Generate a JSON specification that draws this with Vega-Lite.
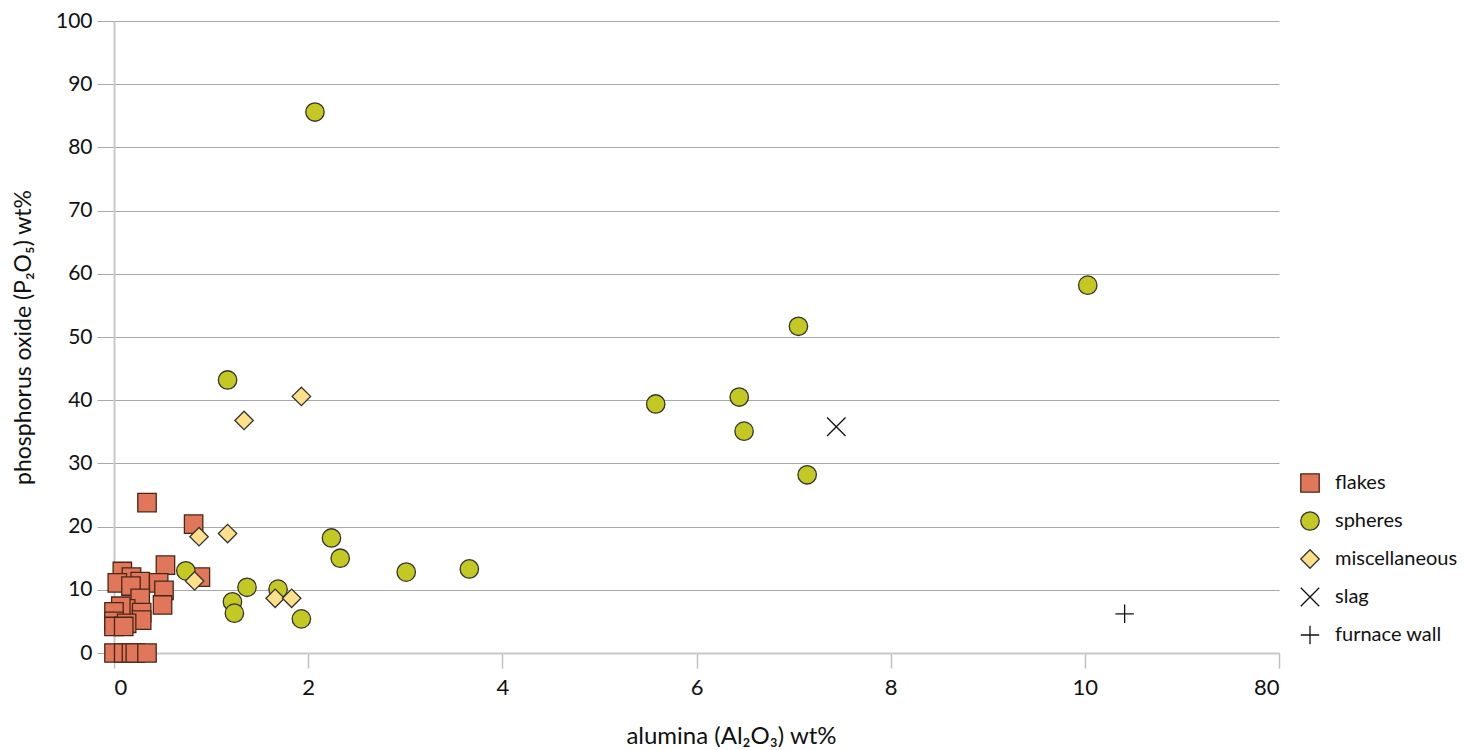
{
  "$schema": "https://vega.github.io/schema/vega-lite/v6.json",
  "width": 1165,
  "height": 632,
  "autosize": {"type": "none"},
  "padding": {"left": 114, "top": 21, "right": 189, "bottom": 97},
  "background": "white",
  "config": {"view": {"stroke": null}},
  "data": {
    "values": [
      {"type": "flakes", "alumina": 0.34, "phosphorus": 23.8},
      {"type": "flakes", "alumina": 0.82, "phosphorus": 20.4},
      {"type": "flakes", "alumina": 0.53, "phosphorus": 13.9},
      {"type": "flakes", "alumina": 0.89, "phosphorus": 12.0},
      {"type": "flakes", "alumina": 0.086, "phosphorus": 12.9},
      {"type": "flakes", "alumina": 0.18, "phosphorus": 12.0},
      {"type": "flakes", "alumina": 0.034, "phosphorus": 11.1},
      {"type": "flakes", "alumina": 0.27, "phosphorus": 11.3},
      {"type": "flakes", "alumina": 0.175, "phosphorus": 10.6},
      {"type": "flakes", "alumina": 0.46, "phosphorus": 11.1},
      {"type": "flakes", "alumina": 0.515, "phosphorus": 9.9},
      {"type": "flakes", "alumina": 0.5, "phosphorus": 7.6},
      {"type": "flakes", "alumina": 0.27, "phosphorus": 8.65},
      {"type": "flakes", "alumina": 0.12, "phosphorus": 7.0},
      {"type": "flakes", "alumina": 0.07, "phosphorus": 7.4},
      {"type": "flakes", "alumina": 0.0, "phosphorus": 6.5},
      {"type": "flakes", "alumina": 0.0, "phosphorus": 5.0},
      {"type": "flakes", "alumina": 0.0, "phosphorus": 4.2},
      {"type": "flakes", "alumina": 0.285, "phosphorus": 6.4},
      {"type": "flakes", "alumina": 0.285, "phosphorus": 5.2},
      {"type": "flakes", "alumina": 0.13, "phosphorus": 4.7},
      {"type": "flakes", "alumina": 0.1, "phosphorus": 4.2},
      {"type": "flakes", "alumina": 0.0, "phosphorus": 0},
      {"type": "flakes", "alumina": 0.1, "phosphorus": 0},
      {"type": "flakes", "alumina": 0.18, "phosphorus": 0},
      {"type": "flakes", "alumina": 0.22, "phosphorus": 0},
      {"type": "flakes", "alumina": 0.34, "phosphorus": 0},
      {"type": "spheres", "alumina": 2.07, "phosphorus": 85.6},
      {"type": "spheres", "alumina": 10.03, "phosphorus": 58.2},
      {"type": "spheres", "alumina": 7.05, "phosphorus": 51.7},
      {"type": "spheres", "alumina": 5.58, "phosphorus": 39.4},
      {"type": "spheres", "alumina": 6.44, "phosphorus": 40.5},
      {"type": "spheres", "alumina": 6.49, "phosphorus": 35.1},
      {"type": "spheres", "alumina": 7.14, "phosphorus": 28.2},
      {"type": "spheres", "alumina": 1.17, "phosphorus": 43.2},
      {"type": "spheres", "alumina": 2.24, "phosphorus": 18.2},
      {"type": "spheres", "alumina": 2.33, "phosphorus": 15.0},
      {"type": "spheres", "alumina": 3.01, "phosphorus": 12.8},
      {"type": "spheres", "alumina": 3.66, "phosphorus": 13.3},
      {"type": "spheres", "alumina": 0.74, "phosphorus": 13.0},
      {"type": "spheres", "alumina": 1.37, "phosphorus": 10.4},
      {"type": "spheres", "alumina": 1.69, "phosphorus": 10.1},
      {"type": "spheres", "alumina": 1.22, "phosphorus": 8.1},
      {"type": "spheres", "alumina": 1.24, "phosphorus": 6.3},
      {"type": "spheres", "alumina": 1.93, "phosphorus": 5.4},
      {"type": "miscellaneous", "alumina": 1.93, "phosphorus": 40.6},
      {"type": "miscellaneous", "alumina": 1.34, "phosphorus": 36.8},
      {"type": "miscellaneous", "alumina": 0.876, "phosphorus": 18.4},
      {"type": "miscellaneous", "alumina": 1.17, "phosphorus": 18.9},
      {"type": "miscellaneous", "alumina": 0.83, "phosphorus": 11.4},
      {"type": "miscellaneous", "alumina": 1.66, "phosphorus": 8.65},
      {"type": "miscellaneous", "alumina": 1.83, "phosphorus": 8.65},
      {"type": "slag", "alumina": 7.44, "phosphorus": 35.8},
      {"type": "furnace wall", "alumina": 10.41, "phosphorus": 6.2}
    ]
  },
  "mark": {"type": "point", "filled": true, "size": 340, "strokeWidth": 1.3, "opacity": 1},
  "encoding": {
    "x": {
      "field": "alumina",
      "type": "quantitative",
      "scale": {"domain": [0, 12], "nice": false, "zero": true},
      "axis": {
        "title": "alumina (Al₂O₃) wt%",
        "values": [0, 2, 4, 6, 8, 10, 12],
        "labelExpr": "datum.value == 12 ? '80' : datum.label",
        "grid": false,
        "domainColor": "#c8c8c8",
        "domainWidth": 2,
        "tickColor": "#c0c0c0",
        "tickWidth": 1.5,
        "tickSize": 15,
        "labelPadding": 9,
        "labelFont": "Lato",
        "labelFontSize": 22,
        "labelColor": "#111",
        "titleFont": "Lato",
        "titleFontSize": 24,
        "titleFontWeight": "normal",
        "titleColor": "#111",
        "titleX": 617,
        "titleY": 83,
        "titleBaseline": "middle",
        "titleAnchor": "middle"
      }
    },
    "y": {
      "field": "phosphorus",
      "type": "quantitative",
      "scale": {"domain": [0, 100], "nice": false},
      "axis": {
        "title": "phosphorus oxide (P₂O₅) wt%",
        "values": [0, 10, 20, 30, 40, 50, 60, 70, 80, 90, 100],
        "grid": true,
        "gridColor": "#a8a8a8",
        "gridWidth": 1,
        "domainColor": "#c8c8c8",
        "domainWidth": 2,
        "tickColor": "#a8a8a8",
        "tickSize": 17,
        "labelPadding": 5,
        "labelFont": "Lato",
        "labelFontSize": 21,
        "labelColor": "#111",
        "titleFont": "Lato",
        "titleFontSize": 23,
        "titleFontWeight": "normal",
        "titleColor": "#111",
        "titleX": -91,
        "titleY": 316,
        "titleAngle": -90,
        "titleBaseline": "middle",
        "titleAlign": "center"
      }
    },
    "shape": {
      "field": "type",
      "type": "nominal",
      "scale": {
        "domain": ["flakes", "spheres", "miscellaneous", "slag", "furnace wall"],
        "range": ["square", "circle", "diamond", "M-1,-1L1,1M1,-1L-1,1", "M0,-1L0,1M-1,0L1,0"]
      },
      "legend": {
        "title": null,
        "orient": "none",
        "legendX": 1186,
        "legendY": 452,
        "padding": 0,
        "symbolSize": 340,
        "symbolStrokeWidth": 1.3,
        "labelOffset": 15,
        "rowPadding": 14,
        "labelFont": "Lato",
        "labelFontSize": 20,
        "labelColor": "#111",
        "symbolOpacity": 1
      }
    },
    "fill": {
      "field": "type",
      "type": "nominal",
      "scale": {
        "domain": ["flakes", "spheres", "miscellaneous", "slag", "furnace wall"],
        "range": ["#E0765A", "#C3C823", "#FFE08A", "transparent", "transparent"]
      },
      "legend": {
        "title": null,
        "orient": "none",
        "legendX": 1186,
        "legendY": 452,
        "padding": 0,
        "symbolSize": 340,
        "symbolStrokeWidth": 1.3,
        "labelOffset": 15,
        "rowPadding": 14,
        "labelFont": "Lato",
        "labelFontSize": 20,
        "labelColor": "#111",
        "symbolOpacity": 1
      }
    },
    "stroke": {
      "field": "type",
      "type": "nominal",
      "scale": {
        "domain": ["flakes", "spheres", "miscellaneous", "slag", "furnace wall"],
        "range": ["#4a2616", "#333333", "#333333", "#111111", "#111111"]
      },
      "legend": {
        "title": null,
        "orient": "none",
        "legendX": 1186,
        "legendY": 452,
        "padding": 0,
        "symbolSize": 340,
        "symbolStrokeWidth": 1.3,
        "labelOffset": 15,
        "rowPadding": 14,
        "labelFont": "Lato",
        "labelFontSize": 20,
        "labelColor": "#111",
        "symbolOpacity": 1
      }
    }
  }
}
